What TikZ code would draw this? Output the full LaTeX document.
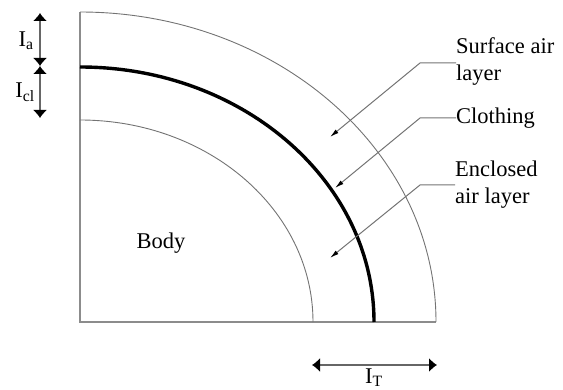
\documentclass[tikz,border=0pt]{standalone}
\usepackage{fontspec}
\setmainfont{Liberation Serif}
\usetikzlibrary{arrows.meta}
\begin{document}
\begin{tikzpicture}[x=1pt,y=1pt,
  frame/.style={draw=black!45,line width=1.4pt},
  thinarc/.style={draw=black!55,line width=0.9pt},
  clotharc/.style={draw=black,line width=3.4pt},
  dimarrow/.style={draw=black!60,line width=1.2pt,{Latex[length=8pt,width=14pt,black]}-{Latex[length=8pt,width=14pt,black]}},
  leader/.style={draw=black!55,line width=1pt,-{Latex[length=9pt,width=4.5pt,black]}},
  lbl/.style={font=\fontsize{22.5}{27}\selectfont,inner sep=0pt,align=left}]
\useasboundingbox (0,0) rectangle (563,389);
% frame
\coordinate (O) at (80,67);
\coordinate (Top) at (80,377);
\coordinate (Right) at (436,67);
\draw[frame] (Top) -- (O) -- (Right);
% arcs
\draw[thinarc] (80,377) arc[start angle=90,end angle=0,x radius=356,y radius=310];
\draw[clotharc] (80,322) arc[start angle=90,end angle=0,x radius=294,y radius=255];
\draw[thinarc] (80,269) arc[start angle=90,end angle=0,x radius=233,y radius=202];
% left dimension arrows
\coordinate (a1) at (40,376);
\coordinate (a2) at (40,323);
\coordinate (a3) at (40,271);
\draw[dimarrow] (a1) -- (a2);
\draw[dimarrow] (a2) -- (a3);
\node[lbl] (Ia) at (26,348) {I\textsubscript{a}};
\node[lbl] (Icl) at (25,297) {I\textsubscript{cl}};
% bottom dimension arrow
\coordinate (t1) at (312,24);
\coordinate (t2) at (437,24);
\draw[dimarrow] (t1) -- (t2);
\node[lbl] (IT) at (374,11) {I\textsubscript{T}};
% body
\node[lbl] (body) at (161,146) {Body};
% labels
\node[lbl,anchor=west] (surf) at (456,327) {Surface air\\layer};
\node[lbl,anchor=west] (cloth) at (456,271) {Clothing};
\node[lbl,anchor=west] (encl) at (455,204) {Enclosed\\air layer};
\coordinate (s1) at (420,326);
\coordinate (s2) at (330,252);
\coordinate (c1) at (420,271);
\coordinate (c2) at (335,201);
\coordinate (e1) at (420,204);
\coordinate (e2) at (330,131);
\draw[leader] (surf.west |- s1) -- (s1) -- (s2);
\draw[leader] (cloth.west) -- (c1) -- (c2);
\draw[leader] (encl.west) -- (e1) -- (e2);
\end{tikzpicture}
\end{document}
